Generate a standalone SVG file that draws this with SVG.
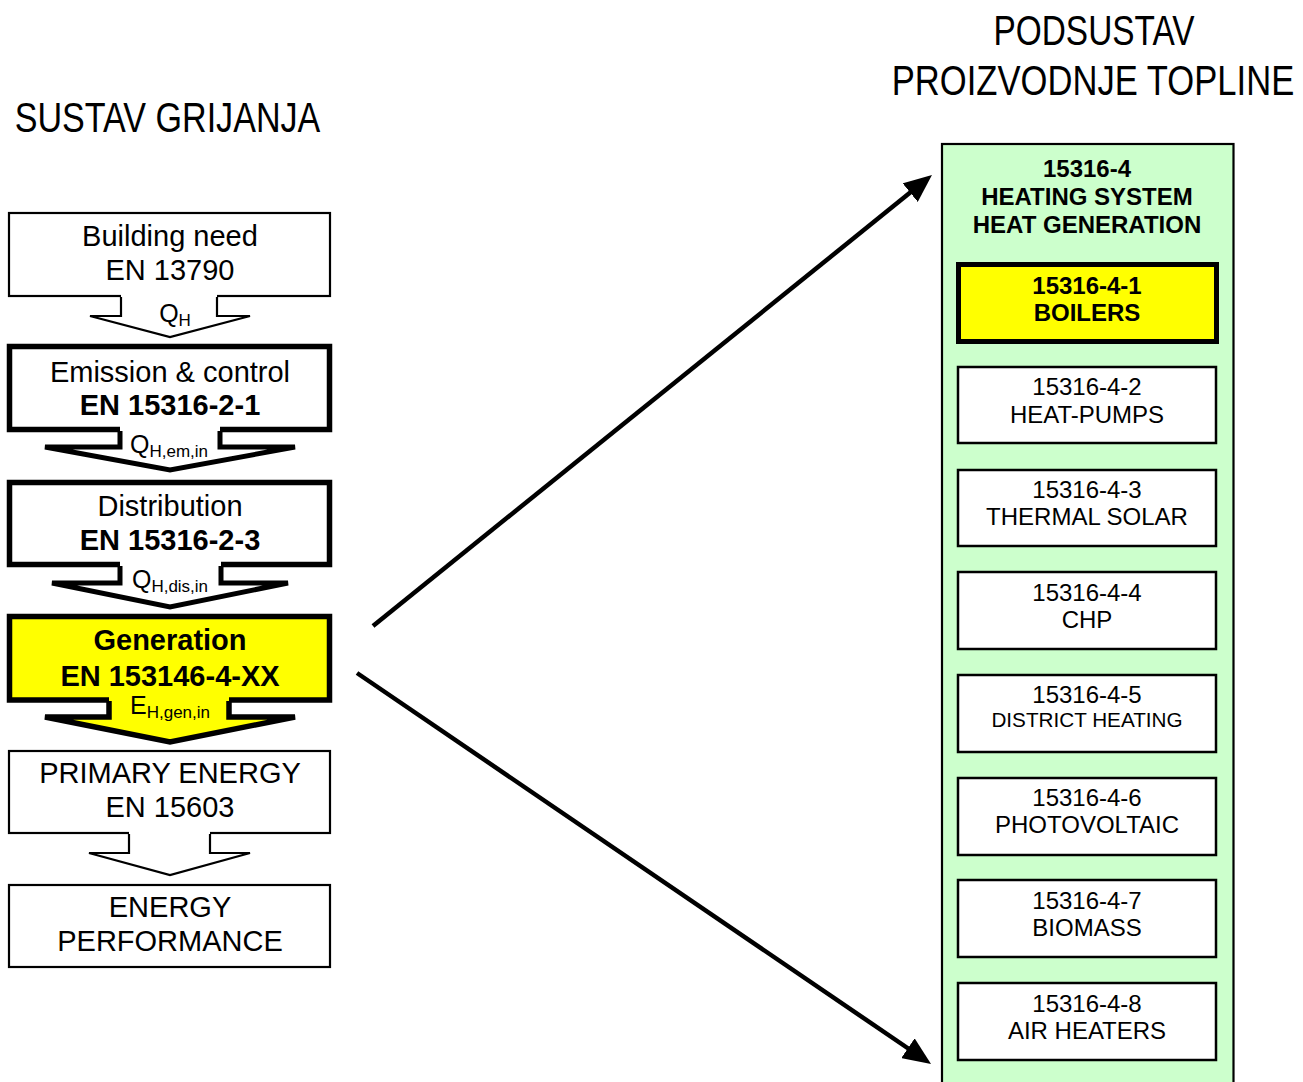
<svg xmlns="http://www.w3.org/2000/svg" width="1303" height="1082" viewBox="0 0 1303 1082">
<defs>
<marker id="ah" viewBox="0 0 28 24" refX="4" refY="12" markerWidth="28" markerHeight="24" markerUnits="userSpaceOnUse" orient="auto">
<path d="M0,0 L28,12 L0,24 z" fill="#000"/>
</marker>
</defs>
<style>
text{font-family:"Liberation Sans",Arial,sans-serif;fill:#000;text-anchor:middle}
.lt{font-size:29px}
.b{font-weight:bold}
.rt{font-size:24px}
.q{font-size:25px}
.sub{font-size:17px}
.box{fill:#fff;stroke:#000;stroke-width:2.2}
.thick{stroke-width:5.5}
.yel{fill:#ffff00}
.rbox{fill:#fff;stroke:#000;stroke-width:2.5}
.afill{stroke:none}
.aline{fill:none;stroke:#000}
.conn{stroke:#000;stroke-width:4.5;fill:none;marker-end:url(#ah)}
</style>
<rect width="1303" height="1082" fill="#fff"/>

<g id="titles">
<text x="0" y="0" style="font-size:34.1px" transform="translate(167.5,132) scale(1,1.24)">SUSTAV GRIJANJA</text>
<text x="0" y="0" style="font-size:33.4px" transform="translate(1094,45) scale(1,1.29)">PODSUSTAV</text>
<text x="0" y="0" style="font-size:34.6px" transform="translate(1093,95) scale(1,1.24)">PROIZVODNJE TOPLINE</text>
</g>

<g id="building-need">
<rect class="box" x="9" y="213" width="321" height="83"/>
<text class="lt" x="170" y="246">Building need</text>
<text class="lt" x="170" y="280">EN 13790</text>
</g>
<g id="emission">
<rect class="box thick" x="9.5" y="346.5" width="320" height="83"/>
<text class="lt" x="170" y="382">Emission &amp; control</text>
<text class="lt b" x="170" y="415">EN 15316-2-1</text>
</g>
<g id="distribution">
<rect class="box thick" x="9.5" y="482.5" width="320" height="82"/>
<text class="lt" x="170" y="516">Distribution</text>
<text class="lt b" x="170" y="550">EN 15316-2-3</text>
</g>
<g id="generation">
<rect class="box thick yel" x="9.5" y="616.5" width="320" height="83.5"/>
<text class="lt b" x="170" y="650">Generation</text>
<text class="lt b" x="170" y="686">EN 153146-4-XX</text>
</g>
<g id="primary-energy">
<rect class="box" x="9" y="751" width="321" height="82"/>
<text class="lt" x="170" y="783">PRIMARY ENERGY</text>
<text class="lt" x="170" y="817">EN 15603</text>
</g>
<g id="energy-performance">
<rect class="box" x="9" y="885" width="321" height="82"/>
<text class="lt" x="170" y="917">ENERGY</text>
<text class="lt" x="170" y="951">PERFORMANCE</text>
</g>

<g id="flow-arrows">
<polygon class="afill" fill="#fff" points="121,291 121,316 90,316 170,337 250,316 217,316 217,291"/>
<polyline class="aline" stroke-width="2.2" points="121,297 121,316 90,316 170,337 250,316 217,316 217,297"/>
<text class="q" x="175" y="322">Q<tspan class="sub" dy="4">H</tspan></text>

<polygon class="afill" fill="#fff" points="120,424 120,447 45,447 170,470 295,447 220,447 220,424"/>
<polyline class="aline" stroke-width="5" points="120,431 120,447 45,447 170,470 295,447 220,447 220,431"/>
<text class="q" x="169" y="453">Q<tspan class="sub" dy="4">H,em,in</tspan></text>

<polygon class="afill" fill="#fff" points="120,560 120,583 52,583 170,607 288,583 221,583 221,560"/>
<polyline class="aline" stroke-width="5" points="120,566 120,583 52,583 170,607 288,583 221,583 221,566"/>
<text class="q" x="170" y="588">Q<tspan class="sub" dy="4">H,dis,in</tspan></text>

<polygon class="afill" fill="#ffff00" points="109,694 109,717 45,717 170,742 295,717 229,717 229,694"/>
<polyline class="aline" stroke-width="5.5" points="109,701 109,717 45,717 170,742 295,717 229,717 229,701"/>
<text class="q" x="170" y="714">E<tspan class="sub" dy="4">H,gen,in</tspan></text>

<polygon class="afill" fill="#fff" points="129,828 129,853 89,853 170,875 250,853 210,853 210,828"/>
<polyline class="aline" stroke-width="2.2" points="129,834 129,853 89,853 170,875 250,853 210,853 210,834"/>
</g>

<g id="heat-generation">
<rect x="942" y="144" width="291.5" height="950" fill="#ccffcc" stroke="#000" stroke-width="2.2"/>
<text class="rt b" x="1087" y="177">15316-4</text>
<text class="rt b" x="1087" y="205">HEATING SYSTEM</text>
<text class="rt b" x="1087" y="233">HEAT GENERATION</text>
</g>
<g id="boilers">
<rect x="958.5" y="264.5" width="258" height="77" fill="#ffff00" stroke="#000" stroke-width="5"/>
<text class="rt b" x="1087" y="294">15316-4-1</text>
<text class="rt b" x="1087" y="321">BOILERS</text>
</g>
<g id="heat-pumps">
<rect class="rbox" x="958" y="367" width="258" height="76"/>
<text class="rt" x="1087" y="395">15316-4-2</text>
<text class="rt" x="1087" y="423">HEAT-PUMPS</text>
</g>
<g id="thermal-solar">
<rect class="rbox" x="958" y="470" width="258" height="76"/>
<text class="rt" x="1087" y="498">15316-4-3</text>
<text class="rt" x="1087" y="525">THERMAL SOLAR</text>
</g>
<g id="chp">
<rect class="rbox" x="958" y="572" width="258" height="77"/>
<text class="rt" x="1087" y="601">15316-4-4</text>
<text class="rt" x="1087" y="628">CHP</text>
</g>
<g id="district-heating">
<rect class="rbox" x="958" y="675" width="258" height="77"/>
<text class="rt" x="1087" y="703">15316-4-5</text>
<text x="1087" y="727" style="font-size:20.7px">DISTRICT HEATING</text>
</g>
<g id="photovoltaic">
<rect class="rbox" x="958" y="778" width="258" height="77"/>
<text class="rt" x="1087" y="806">15316-4-6</text>
<text class="rt" x="1087" y="833">PHOTOVOLTAIC</text>
</g>
<g id="biomass">
<rect class="rbox" x="958" y="880" width="258" height="77"/>
<text class="rt" x="1087" y="909">15316-4-7</text>
<text class="rt" x="1087" y="936">BIOMASS</text>
</g>
<g id="air-heaters">
<rect class="rbox" x="958" y="983" width="258" height="77"/>
<text class="rt" x="1087" y="1012">15316-4-8</text>
<text class="rt" x="1087" y="1039">AIR HEATERS</text>
</g>

<g id="connectors">
<line class="conn" x1="373" y1="626" x2="913.3" y2="190.1"/>
<line class="conn" x1="357" y1="673" x2="911.2" y2="1050.5"/>
</g>
</svg>
